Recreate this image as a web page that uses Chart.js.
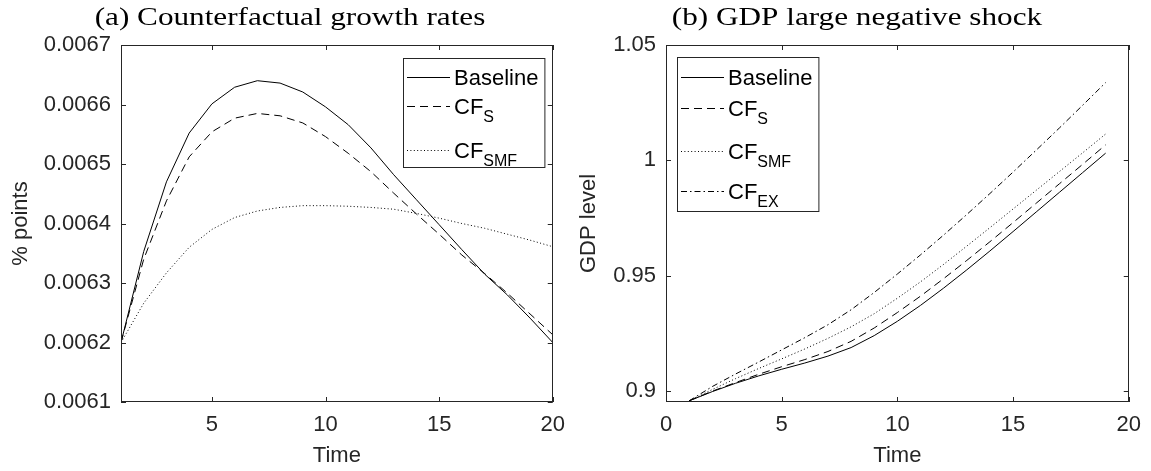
<!DOCTYPE html>
<html>
<head>
<meta charset="utf-8">
<script src="https://cdn.jsdelivr.net/npm/chart.js@4.4.0/dist/chart.umd.min.js"></script>
<style>
  body { margin: 0; background: #fff; }
  #wrap { position: relative; width: 1151px; height: 471px; }
  .panel { position: absolute; top: 0; height: 471px; }
</style>
</head>
<body>
<div id="wrap">
  <div class="panel" style="left:0;width:575px"><canvas id="growth"></canvas></div>
  <div class="panel" style="left:575px;width:576px"><canvas id="gdp"></canvas></div>
</div>
<script>
// (a) counterfactual growth rates
const timeA = [1, 2, 3, 4, 5, 6, 7, 8, 9, 10, 11, 12, 13, 14, 15, 16, 17, 18, 19, 20];
const baselineA = [0.00620, 0.006353, 0.006470, 0.006552, 0.006601, 0.006629, 0.006640, 0.006636, 0.006621, 0.006596,
                   0.006566, 0.006527, 0.006482, 0.006440, 0.006398, 0.006356, 0.006315, 0.006280, 0.006241, 0.006200];
const cfSA = [0.00620, 0.006340, 0.006438, 0.006512, 0.006554, 0.006577, 0.006585, 0.006581, 0.006569, 0.006546,
              0.006518, 0.006487, 0.006451, 0.006416, 0.006382, 0.006347, 0.006316, 0.006283, 0.006248, 0.006213];
const cfSmfA = [0.00620, 0.006266, 0.006317, 0.006360, 0.006390, 0.006410, 0.006421, 0.006427, 0.006430, 0.006430,
                0.006429, 0.006427, 0.006424, 0.006417, 0.006409, 0.006400, 0.006392, 0.006382, 0.006372, 0.006361];
const xTicksA = [5, 10, 15, 20];
const yTicksA = [0.0061, 0.0062, 0.0063, 0.0064, 0.0065, 0.0066, 0.0067];

// (b) GDP large negative shock
const timeB = [1, 2, 3, 4, 5, 6, 7, 8, 9, 10, 11, 12, 13, 14, 15, 16, 17, 18, 19];
const baselineB = [0.8957, 0.8997, 0.9033, 0.9065, 0.9094, 0.9121, 0.9151, 0.9188, 0.9240, 0.9302,
                   0.9371, 0.9446, 0.9525, 0.9607, 0.9691, 0.9776, 0.9861, 0.9946, 1.0031];
const cfSB = [0.8957, 0.8999, 0.9036, 0.9072, 0.9105, 0.9136, 0.9171, 0.9215, 0.9273, 0.9340,
              0.9411, 0.9487, 0.9566, 0.9647, 0.9730, 0.9814, 0.9898, 0.9982, 1.0067];
const cfSmfB = [0.8957, 0.9006, 0.9053, 0.9097, 0.9139, 0.9182, 0.9228, 0.9278, 0.9335, 0.9402,
                0.9473, 0.9549, 0.9628, 0.9708, 0.9789, 0.9870, 0.9951, 1.0032, 1.0114];
const cfExB = [0.8957, 0.9019, 0.9073, 0.9125, 0.9178, 0.9231, 0.9287, 0.9352, 0.9427, 0.9507,
               0.9590, 0.9676, 0.9765, 0.9856, 0.9949, 1.0044, 1.0140, 1.0238, 1.0337];
const xTicksB = [0, 5, 10, 15, 20];
const yTicksB = [0.9, 0.95, 1, 1.05];

const AXIS = '#262626';
const SANS = '"Liberation Sans", Arial, sans-serif';
const DASH = [8, 5];
const DOT = [1, 2.4];
const DASHDOT = [6, 3, 1.5, 3];

function pts(xs, ys) {
  return xs.map((x, i) => ({ x: x, y: ys[i] }));
}

function line(label, sub, xs, ys, dash) {
  return {
    label: label, sub: sub, data: pts(xs, ys),
    borderColor: '#000', borderWidth: 1, borderDash: dash,
    pointRadius: 0, tension: 0, fill: false
  };
}

// box, inward ticks, title and a legend with subscripts
const matlabBox = {
  id: 'matlabBox',
  afterDraw(chart, args, opts) {
    const { ctx, chartArea: a, scales: { x, y } } = chart;
    ctx.save();
    ctx.strokeStyle = AXIS;
    ctx.lineWidth = 1;
    ctx.setLineDash([]);
    ctx.beginPath();
    x.ticks.forEach(t => {
      const px = Math.round(x.getPixelForValue(t.value)) + 0.5;
      ctx.moveTo(px, a.bottom); ctx.lineTo(px, a.bottom - 5);
      ctx.moveTo(px, a.top); ctx.lineTo(px, a.top + 5);
    });
    y.ticks.forEach(t => {
      const py = Math.round(y.getPixelForValue(t.value)) + 0.5;
      ctx.moveTo(a.left, py); ctx.lineTo(a.left + 5, py);
      ctx.moveTo(a.right, py); ctx.lineTo(a.right - 5, py);
    });
    ctx.stroke();
    ctx.strokeRect(Math.round(a.left) + 0.5, Math.round(a.top) + 0.5,
                   Math.round(a.right - a.left) - 1, Math.round(a.bottom - a.top) - 1);

    // legend
    const items = chart.data.datasets;
    const lg = opts.legend;
    let maxW = 0;
    items.forEach(d => {
      ctx.font = '22px ' + SANS;
      let w = ctx.measureText(d.label).width;
      if (d.sub) { ctx.font = '16px ' + SANS; w += ctx.measureText(d.sub).width; }
      maxW = Math.max(maxW, w);
    });
    const boxW = 51 + maxW + 6;
    ctx.fillStyle = '#fff';
    ctx.fillRect(lg.left, lg.top, boxW, lg.bottom - lg.top);
    ctx.strokeStyle = AXIS;
    ctx.strokeRect(lg.left + 0.5, lg.top + 0.5, boxW, lg.bottom - lg.top);
    items.forEach((d, i) => {
      const ry = lg.rows[i];
      ctx.strokeStyle = '#000';
      ctx.setLineDash(d.borderDash || []);
      ctx.beginPath();
      ctx.moveTo(lg.left + 4, ry + 0.5); ctx.lineTo(lg.left + 47, ry + 0.5);
      ctx.stroke();
      ctx.setLineDash([]);
      ctx.fillStyle = '#000';
      ctx.textAlign = 'left';
      ctx.textBaseline = 'alphabetic';
      ctx.font = '22px ' + SANS;
      ctx.fillText(d.label, lg.left + 51, ry + 8);
      if (d.sub) {
        const w = ctx.measureText(d.label).width;
        ctx.font = '16px ' + SANS;
        ctx.fillText(d.sub, lg.left + 51 + w, ry + 16);
      }
    });

    // panel caption
    ctx.fillStyle = '#000';
    ctx.font = '26px "Liberation Serif", "Times New Roman", serif';
    ctx.textAlign = 'center';
    ctx.textBaseline = 'alphabetic';
    ctx.translate(opts.titleX, 25);
    ctx.scale(1.2, 1);
    ctx.fillText(opts.title, 0, 0);
    ctx.restore();
  }
};

function makeChart(id, datasets, cfg) {
  return new Chart(document.getElementById(id), {
    type: 'line',
    data: { datasets: datasets },
    plugins: [matlabBox],
    options: {
      responsive: true,
      maintainAspectRatio: false,
      animation: false,
      layout: { padding: { top: 45, right: cfg.padRight, left: 0, bottom: 0 } },
      plugins: {
        legend: { display: false },
        tooltip: { enabled: false },
        matlabBox: { title: cfg.title, titleX: cfg.titleX, legend: cfg.legend }
      },
      scales: {
        x: {
          type: 'linear', min: cfg.xMin, max: cfg.xMax,
          grid: { display: false, drawTicks: false },
          border: { display: false },
          afterBuildTicks: s => { s.ticks = cfg.xTicks.map(v => ({ value: v })); },
          afterFit: s => { s.height = 69; },
          ticks: { color: AXIS, font: { family: SANS, size: 22 }, padding: 10, maxRotation: 0,
                   callback: v => String(v) },
          title: { display: true, text: 'Time', color: AXIS, font: { family: SANS, size: 22 },
                   padding: { top: 0, bottom: 2 } }
        },
        y: {
          type: 'linear', min: cfg.yMin, max: cfg.yMax,
          grid: { display: false, drawTicks: false },
          border: { display: false },
          afterBuildTicks: s => { s.ticks = cfg.yTicks.map(v => ({ value: v })); },
          afterFit: s => { s.width = cfg.yWidth; },
          ticks: { color: AXIS, font: { family: SANS, size: 22 }, padding: 10,
                   callback: cfg.yFormat },
          title: { display: true, text: cfg.yTitle, color: AXIS, font: { family: SANS, size: 22 },
                   padding: { top: cfg.yTitlePad, bottom: 0 } }
        }
      }
    }
  });
}

makeChart('growth', [
  line('Baseline', '', timeA, baselineA, []),
  line('CF', 'S', timeA, cfSA, DASH),
  line('CF', 'SMF', timeA, cfSmfA, DOT)
], {
  title: '(a) Counterfactual growth rates', titleX: 290, padRight: 15,
  xMin: 1, xMax: 20, xTicks: xTicksA,
  yMin: 0.0061, yMax: 0.0067, yTicks: yTicksA, yWidth: 121,
  yFormat: v => v.toFixed(4), yTitle: '% points', yTitlePad: 8,
  legend: { left: 403, top: 58, bottom: 167, rows: [77, 106, 150] }
});

makeChart('gdp', [
  line('Baseline', '', timeB, baselineB, []),
  line('CF', 'S', timeB, cfSB, DASH),
  line('CF', 'SMF', timeB, cfSmfB, DOT),
  line('CF', 'EX', timeB, cfExB, DASHDOT)
], {
  title: '(b) GDP large negative shock', titleX: 282, padRight: 18,
  xMin: 0, xMax: 20, xTicks: xTicksB,
  yMin: 0.8952, yMax: 1.05, yTicks: yTicksB, yWidth: 91,
  yFormat: v => String(v), yTitle: 'GDP level', yTitlePad: 1,
  legend: { left: 102, top: 57, bottom: 211, rows: [77, 108, 151, 191] }
});
</script>
</body>
</html>
